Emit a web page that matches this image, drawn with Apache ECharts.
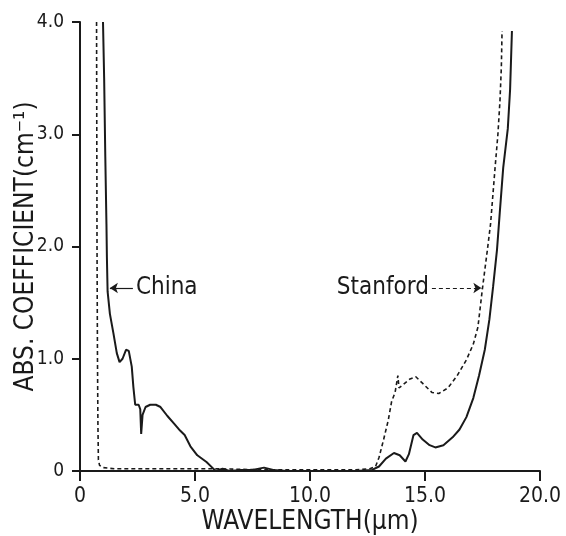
<!DOCTYPE html>
<html>
<head>
<meta charset="utf-8">
<script src="https://cdn.jsdelivr.net/npm/echarts@6/dist/echarts.min.js"></script>
<style>
html,body{margin:0;padding:0;background:#fff;}
#c{width:566px;height:536px;}
</style>
</head>
<body>
<div id="c"></div>
<script>
// Tick labels
var xTickLabels = ['0', '5.0', '10.0', '15.0', '20.0'];
var yTickLabels = ['0', '1.0', '2.0', '3.0', '4.0'];

// China sample (solid)
var chinaX = [1.0, 1.05, 1.1, 1.15, 1.17, 1.2, 1.3, 1.45, 1.6, 1.72, 1.85, 2.0, 2.12, 2.25, 2.32, 2.4, 2.55, 2.62, 2.66, 2.72, 2.85, 3.05, 3.3, 3.5, 3.8, 4.1, 4.35, 4.45, 4.55, 4.8, 5.1, 5.5, 5.75, 5.9, 6.2, 6.5, 7.0, 7.5, 8.0, 8.4, 9.0, 10.0, 11.0, 12.0, 12.7, 13.0, 13.3, 13.65, 13.9, 14.15, 14.3, 14.5, 14.65, 14.9, 15.2, 15.45, 15.8, 16.2, 16.5, 16.8, 17.1, 17.35, 17.6, 17.8, 17.96, 18.13, 18.25, 18.4, 18.6, 18.7, 18.78];
var chinaY = [4.0, 3.5, 2.8, 2.2, 1.9, 1.6, 1.4, 1.23, 1.05, 0.97, 1.0, 1.08, 1.07, 0.93, 0.75, 0.59, 0.59, 0.55, 0.33, 0.5, 0.57, 0.59, 0.59, 0.57, 0.49, 0.42, 0.36, 0.34, 0.32, 0.22, 0.14, 0.08, 0.03, 0.0, 0.02, 0.0, 0.01, 0.01, 0.03, 0.01, 0.0, 0.0, 0.0, 0.0, 0.01, 0.04, 0.11, 0.16, 0.14, 0.085, 0.15, 0.32, 0.34, 0.28, 0.23, 0.21, 0.23, 0.3, 0.37, 0.48, 0.65, 0.85, 1.08, 1.35, 1.64, 1.97, 2.3, 2.7, 3.05, 3.4, 3.92];

// Stanford sample (dashed)
var stanfordX = [0.72, 0.73, 0.74, 0.76, 0.78, 0.8, 0.85, 1.0, 1.5, 2.5, 4.0, 6.0, 8.0, 10.0, 12.0, 12.6, 12.85, 13.0, 13.2, 13.4, 13.55, 13.7, 13.82, 13.87, 14.05, 14.35, 14.6, 14.9, 15.3, 15.6, 16.0, 16.4, 16.8, 17.1, 17.3, 17.5, 17.7, 17.85, 18.05, 18.17, 18.26, 18.32, 18.35];
var stanfordY = [4.0, 3.0, 2.0, 1.0, 0.4, 0.1, 0.05, 0.03, 0.02, 0.02, 0.02, 0.02, 0.01, 0.01, 0.01, 0.02, 0.04, 0.12, 0.28, 0.45, 0.62, 0.7, 0.85, 0.74, 0.77, 0.82, 0.84, 0.78, 0.7, 0.69, 0.74, 0.85, 0.99, 1.13, 1.28, 1.63, 1.95, 2.2, 2.71, 3.0, 3.3, 3.6, 3.92];

function zip(a, b) { return a.map(function (v, i) { return [v, b[i]]; }); }

var FONT = '"Liberation Sans Narrow", "DejaVu Sans Condensed", "Liberation Sans", sans-serif';
var INK = '#1a1a1a';

var chart = echarts.init(document.getElementById('c'), null, {renderer: 'canvas'});
chart.setOption({
  animation: false,
  backgroundColor: '#fff',
  grid: {left: 80, right: 26, top: 22, bottom: 65, containLabel: false, outerBoundsMode: 'none'},
  xAxis: {
    type: 'value', min: 0, max: 20, interval: 5,
    name: 'WAVELENGTH(\u03bcm)', nameLocation: 'middle', nameGap: 38, nameMoveOverlap: false,
    nameTextStyle: {fontFamily: FONT, fontSize: 26, color: INK},
    axisLine: {show: true, lineStyle: {color: INK, width: 2}},
    axisTick: {show: true, inside: false, length: 10, lineStyle: {color: INK, width: 2}},
    axisLabel: {fontFamily: FONT, fontSize: 21, color: INK, margin: 15,
      formatter: function (v) { return xTickLabels[Math.round(v / 5)]; }},
    splitLine: {show: false}
  },
  yAxis: {
    type: 'value', min: 0, max: 4, interval: 1,
    name: 'ABS. COEFFICIENT(cm\u207b\u00b9)', nameLocation: 'middle', nameGap: 41, nameRotate: 90, nameMoveOverlap: false,
    nameTextStyle: {fontFamily: FONT, fontSize: 26, color: INK},
    axisLine: {show: true, lineStyle: {color: INK, width: 2}},
    axisTick: {show: true, inside: false, length: 8, lineStyle: {color: INK, width: 2}},
    axisLabel: {fontFamily: FONT, fontSize: 19, color: INK, margin: 16,
      formatter: function (v) { return yTickLabels[Math.round(v)]; }},
    splitLine: {show: false}
  },
  series: [
    {
      name: 'China', type: 'line', data: zip(chinaX, chinaY),
      showSymbol: false, smooth: false,
      lineStyle: {color: INK, width: 2},
      markLine: {
        silent: true, symbol: ['none', 'arrow'], symbolSize: 8,
        lineStyle: {color: INK, width: 1.2, type: 'solid'},
        label: {show: true, position: 'start', formatter: 'China', fontFamily: FONT, fontSize: 24, color: INK, distance: 3},
        data: [[{coord: [2.3, 1.63]}, {coord: [1.3, 1.63]}]]
      }
    },
    {
      name: 'Stanford', type: 'line', data: zip(stanfordX, stanfordY),
      showSymbol: false, smooth: false,
      lineStyle: {color: INK, width: 1.6, type: [4, 3]},
      markLine: {
        silent: true, symbol: ['none', 'arrow'], symbolSize: 8,
        lineStyle: {color: INK, width: 1.2, type: [4, 3]},
        label: {show: true, position: 'start', formatter: 'Stanford', fontFamily: FONT, fontSize: 24, color: INK, distance: 3},
        data: [[{coord: [15.3, 1.63]}, {coord: [17.45, 1.63]}]]
      }
    }
  ]
});
</script>
</body>
</html>
